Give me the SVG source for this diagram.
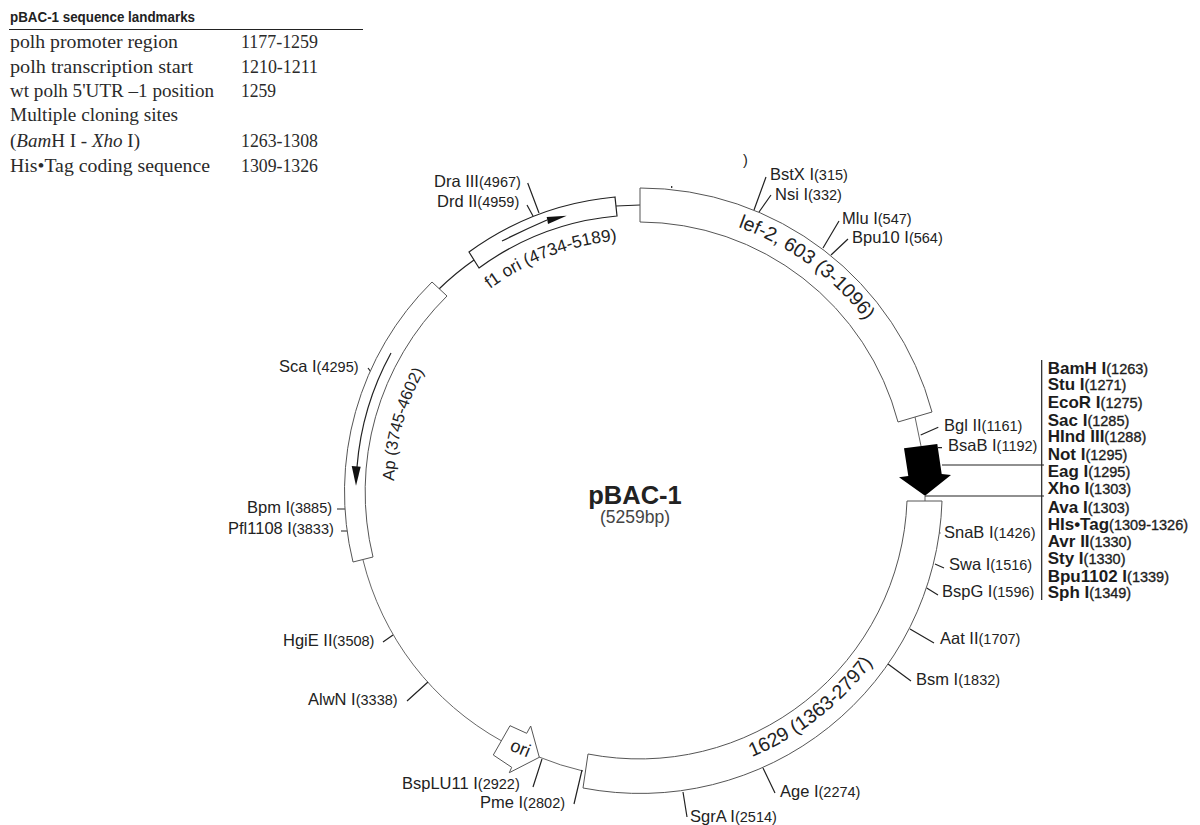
<svg xmlns="http://www.w3.org/2000/svg" width="1200" height="825" viewBox="0 0 1200 825">
<style>
text{font-family:"Liberation Sans",Arial,sans-serif;fill:#222}
.l{font-size:16.5px}
.l tspan{font-size:14.5px}
.b{font-size:17px;font-weight:bold;fill:#1c1c1c}
.b tspan{font-size:14.5px;font-weight:normal;stroke:#222;stroke-width:.35px}
.t{font-family:"Liberation Serif","Times New Roman",serif;font-size:18.5px;fill:#2a2a2a}
.f{fill:#fff;stroke:#555;stroke-width:1}
.fd{fill:#fff;stroke:#222;stroke-width:1.2}
.c{fill:none;stroke:#666;stroke-width:1}
.k{fill:none;stroke:#222;stroke-width:1.2}
.r{fill:none;stroke:#222;stroke-width:1.2}
</style>
<defs>
<path id="pLef" d="M738,227 A280,280 0 0 1 893,364"/>
<path id="pF1" d="M490,289 A250,250 0 0 1 650,240"/>
<path id="pAp" d="M394,481 A247,247 0 0 1 465,316"/>
<path id="p1629" d="M752,757 A290,290 0 0 0 893,632"/>
</defs>

<g id="connectors">
<path class="c" d="M363,560 A285,285 0 0 0 501.700,741"/>
<path class="c" d="M539,757 A285,285 0 0 0 583,771"/>
<path class="k" d="M439,289 A285,285 0 0 1 474,260"/>
<path class="k" d="M616,206 L640,205"/>
<path class="c" d="M915,417 L921,446"/>
<path class="c" d="M925,496 L925,501"/>
<path class="k" d="M754,210 L766,177 M759,212 L771,195 M823,248 L839,221 M831,255 L848,239"/>
<path class="k" d="M920.700,435 L938.300,427.300 M938,447.700 L942,447.700 M938.300,533 L940.500,533 M935,564 L944,568 M926.700,588 L938,595"/>
<path class="k" d="M910,629 L934,643 M888,664 L911,681 M763,768 L775,793 M683,792 L687,817"/>
<path class="k" d="M533,787 L542,759 M574,804 L582,770"/>
<path class="k" d="M407,701 L428,682 M383,642 L393,635 M341,531 L349,531 M337,509 L346,509 M368,368 L371,372"/>
<path class="k" d="M527.700,183 L539,213 M527,205 L533,216 M671.700,186 L671.700,188"/>
<path class="r" d="M1041.700,360 L1041.700,600 M942,465 L1044,465 M925,496 L1044,496"/>
</g>

<g id="table">
<text x="10" y="22" font-size="14" font-weight="bold" textLength="185" lengthAdjust="spacingAndGlyphs">pBAC-1 sequence landmarks</text>
<path class="r" d="M9,29.500 L363,29.500"/>
<text class="t" x="10" y="48" textLength="168" lengthAdjust="spacingAndGlyphs">polh promoter region</text><text class="t" x="241" y="48" textLength="77" lengthAdjust="spacingAndGlyphs">1177-1259</text>
<text class="t" x="10" y="73" textLength="183" lengthAdjust="spacingAndGlyphs">polh transcription start</text><text class="t" x="241" y="73" textLength="77" lengthAdjust="spacingAndGlyphs">1210-1211</text>
<text class="t" x="10" y="97" textLength="204" lengthAdjust="spacingAndGlyphs">wt polh 5'UTR –1 position</text><text class="t" x="241" y="97" textLength="35" lengthAdjust="spacingAndGlyphs">1259</text>
<text class="t" x="10" y="121" textLength="168" lengthAdjust="spacingAndGlyphs">Multiple cloning sites</text>
<text class="t" x="10" y="147" textLength="130" lengthAdjust="spacingAndGlyphs">(<tspan font-style="italic">Bam</tspan>H I - <tspan font-style="italic">Xho</tspan> I)</text><text class="t" x="241" y="147" textLength="77" lengthAdjust="spacingAndGlyphs">1263-1308</text>
<text class="t" x="10" y="172" textLength="200" lengthAdjust="spacingAndGlyphs">His•Tag coding sequence</text><text class="t" x="241" y="172" textLength="77" lengthAdjust="spacingAndGlyphs">1309-1326</text>
</g>

<g id="title">
<text x="635" y="504" text-anchor="middle" font-size="25.500" font-weight="bold">pBAC-1</text>
<text x="635" y="523" text-anchor="middle" font-size="17.500" style="fill:#444">(5259bp)</text>
</g>

<g id="lef2">
<path class="f" d="M640,188 A302,302 0 0 1 932,412 L898,422 A268,268 0 0 0 640,222 Z"/>
<text font-size="19.500"><textPath href="#pLef">lef-2, 603 (3-1096)</textPath></text>
</g>
<g id="f1ori">
<path class="fd" d="M469,252 A294,294 0 0 1 615,197 L617,216 A275,275 0 0 0 479,268 Z"/>
<path class="k" d="M502,241 Q524,230 547,220"/>
<polygon points="546.700,217 566.700,215.700 548,224" fill="#111"/>
<text font-size="17.300"><textPath href="#pF1">f1 ori (4734-5189)</textPath></text>
</g>
<g id="ap">
<path class="f" d="M432,282 A295,295 0 0 0 353,562 L373,557 A275,275 0 0 1 447,296 Z"/>
<path class="k" d="M391,353 A284,284 0 0 0 357,467"/>
<polygon points="351.700,466 360.700,466.700 356,485.700" fill="#111"/>
<text font-size="16.500"><textPath href="#pAp">Ap (3745-4602)</textPath></text>
</g>
<g id="gene1629">
<path class="f" d="M942,501 A302,302 0 0 1 583,788 L588,754 A268,268 0 0 0 907,501 Z"/>
<text font-size="19.500"><textPath href="#p1629">1629 (1363-2797)</textPath></text>
</g>
<g id="ori">
<polygon class="f" points="510,725.700 526.700,733.300 530.700,726 539.300,757.300 509.300,772.700 511.700,767.300 493.300,755"/>
<text font-size="18" transform="translate(509,750) rotate(22)">ori</text>
</g>
<g id="polh">
<polygon points="904,448.300 937.300,444 941.700,474 951,475 925,495.700 899,477.300 908.300,476" fill="#000"/>
</g>

<g id="sites">
<text class="l" x="743" y="165"><tspan>)</tspan></text>
<text class="l" x="770" y="180">BstX I<tspan>(315)</tspan></text>
<text class="l" x="775" y="200">Nsi I<tspan>(332)</tspan></text>
<text class="l" x="842" y="224">Mlu I<tspan>(547)</tspan></text>
<text class="l" x="852" y="243">Bpu10 I<tspan>(564)</tspan></text>
<text class="l" x="944" y="431">Bgl II<tspan>(1161)</tspan></text>
<text class="l" x="948" y="451">BsaB I<tspan>(1192)</tspan></text>
<text class="l" x="944" y="538">SnaB I<tspan>(1426)</tspan></text>
<text class="l" x="949" y="570">Swa I<tspan>(1516)</tspan></text>
<text class="l" x="942" y="597">BspG I<tspan>(1596)</tspan></text>
<text class="l" x="940" y="644">Aat II<tspan>(1707)</tspan></text>
<text class="l" x="916" y="685">Bsm I<tspan>(1832)</tspan></text>
<text class="l" x="780" y="797">Age I<tspan>(2274)</tspan></text>
<text class="l" x="690" y="822">SgrA I<tspan>(2514)</tspan></text>
<text class="l" x="480" y="808">Pme I<tspan>(2802)</tspan></text>
<text class="l" x="402" y="789">BspLU11 I<tspan>(2922)</tspan></text>
<text class="l" x="308" y="705">AlwN I<tspan>(3338)</tspan></text>
<text class="l" x="283" y="646">HgiE II<tspan>(3508)</tspan></text>
<text class="l" x="228" y="534">Pfl1108 I<tspan>(3833)</tspan></text>
<text class="l" x="247" y="513">Bpm I<tspan>(3885)</tspan></text>
<text class="l" x="279" y="372">Sca I<tspan>(4295)</tspan></text>
<text class="l" x="437" y="207">Drd II<tspan>(4959)</tspan></text>
<text class="l" x="434" y="187">Dra III<tspan>(4967)</tspan></text>
</g>

<g id="mcs">
<text class="b" x="1047.700" y="374">BamH I<tspan>(1263)</tspan></text>
<text class="b" x="1047.700" y="390">Stu I<tspan>(1271)</tspan></text>
<text class="b" x="1047.700" y="408">EcoR I<tspan>(1275)</tspan></text>
<text class="b" x="1047.700" y="426">Sac I<tspan>(1285)</tspan></text>
<text class="b" x="1047.700" y="442">HInd III<tspan>(1288)</tspan></text>
<text class="b" x="1047.700" y="460">Not I<tspan>(1295)</tspan></text>
<text class="b" x="1047.700" y="477">Eag I<tspan>(1295)</tspan></text>
<text class="b" x="1047.700" y="494">Xho I<tspan>(1303)</tspan></text>
<text class="b" x="1047.700" y="513">Ava I<tspan>(1303)</tspan></text>
<text class="b" x="1047.700" y="530">HIs•Tag<tspan>(1309-1326)</tspan></text>
<text class="b" x="1047.700" y="547">Avr II<tspan>(1330)</tspan></text>
<text class="b" x="1047.700" y="564">Sty I<tspan>(1330)</tspan></text>
<text class="b" x="1047.700" y="582">Bpu1102 I<tspan>(1339)</tspan></text>
<text class="b" x="1047.700" y="598">Sph I<tspan>(1349)</tspan></text>
</g>
</svg>
